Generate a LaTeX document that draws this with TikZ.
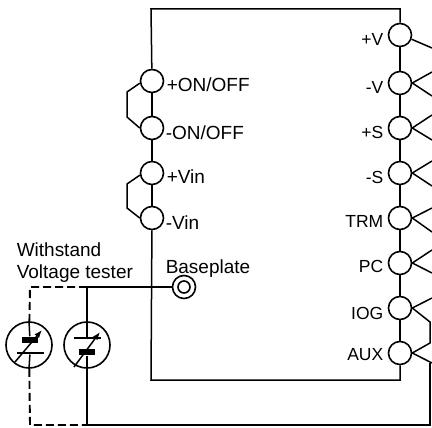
\documentclass[tikz,border=0pt]{standalone}
\usepackage{fontspec}
\usetikzlibrary{arrows.meta}
\setmainfont{Liberation Sans}
\newcommand\txt{\fontsize{19}{19}\selectfont}
\newcommand\txtb{\fontsize{17.5}{18}\selectfont}
\newcommand\pairwires[3]{
        \draw (#1.east) -- (432,#2);
        \draw (#1.east) -- (432,#3);
}
\tikzset{
    wire/.style={line width=1.5pt},
    tester/.style={line width=1.9pt,dash pattern=on 8pt off 4pt},
    pin/.style={circle,draw,fill=white,line width=1.6pt,inner sep=0pt,minimum size=23pt},
    varistor/.style={circle,draw,line width=1.6pt,inner sep=0pt,minimum size=46pt},
    thickplate/.style={fill=black,inner sep=0pt,minimum width=16pt,minimum height=6pt},
    thinplate/.style={fill=black,inner sep=0pt,minimum width=27pt,minimum height=1.5pt},
    tune/.style={-{Latex[length=8pt,width=6pt]}},
    leftlabel/.style={anchor=west,inner sep=0pt,font=\txt},
    rightlabel/.style={anchor=east,inner sep=0pt,font=\txtb},
}
\begin{document}
\begin{tikzpicture}[x=1pt,y=-1pt,wire]
    \useasboundingbox (0,0) rectangle (432,428);

    %pins on the left side:
    \node[pin] (onplus) at (152,81) {};
    \node[pin] (onminus) at (152,128) {};
    \node[pin] (vinplus) at (152,173) {};
    \node[pin] (vinminus) at (152,218) {};

    %pins on the right side:
    \node[pin] (vplus) at (400,35) {};
    \node[pin] (vminus) at (400,83) {};
    \node[pin] (splus) at (400,128) {};
    \node[pin] (sminus) at (400,173) {};
    \node[pin] (trm) at (400,218) {};
    \node[pin] (pc) at (400,263) {};
    \node[pin] (iog) at (400,308) {};
    \node[pin] (aux) at (400,353) {};

    %labels:
    \node[leftlabel] (lonplus) at (166,85) {+ON/OFF};
    \node[leftlabel] (lonminus) at (165,133) {-ON/OFF};
    \node[leftlabel] (lvinplus) at (166,177) {+Vin};
    \node[leftlabel] (lvinminus) at (165,223) {-Vin};
    \node[rightlabel] (lvplus) at (384,39) {+V};
    \node[rightlabel] (lvminus) at (384,87) {-V};
    \node[rightlabel] (lsplus) at (384,132) {+S};
    \node[rightlabel] (lsminus) at (384,177) {-S};
    \node[rightlabel] (ltrm) at (384,221) {TRM};
    \node[rightlabel] (lpc) at (384,266) {PC};
    \node[rightlabel] (liog) at (384,313) {IOG};
    \node[rightlabel] (laux) at (384,355) {AUX};
    \node[leftlabel] (lwith) at (16,250) {Withstand};
    \node[leftlabel] (lvolt) at (16,274) {Voltage tester};
    \node[leftlabel] (lbase) at (165,269) {Baseplate};

    %baseplate terminal:
    \node[circle,draw,line width=1.6pt,inner sep=0pt,minimum size=23pt] (base) at (184,287) {};
    \node[circle,draw,line width=1.6pt,inner sep=0pt,minimum size=12pt] (baseinner) at (184,287) {};

    %outline of the unit:
    \coordinate (tl) at (151,9);
    \coordinate (tr) at (400,9);
    \coordinate (bl) at (151,380);
    \coordinate (br) at (400,380);
    \draw (vplus) -- (tr) -- (tl) -- (onplus);
    \draw (onplus) -- (onminus);
    \draw (onminus) -- (vinplus);
    \draw (vinplus) -- (vinminus);
    \draw (vinminus) -- (bl) -- (br) -- (aux);
    \draw (vplus) -- (vminus);
    \draw (vminus) -- (splus);
    \draw (splus) -- (sminus);
    \draw (sminus) -- (trm);
    \draw (trm) -- (pc);
    \draw (pc) -- (iog);
    \draw (iog) -- (aux);

    %jumpers on the left side:
    \draw (onplus.190) -- (127,92) -- (127,117) -- (onminus.180);
    \draw (vinplus.190) -- (127,184) -- (127,208) -- (vinminus.180);

    %wires on the right side:
    \draw (vplus.-20) -- (432,48);
    \pairwires{vminus}{72}{96}
    \pairwires{splus}{115}{140}
    \pairwires{sminus}{161}{186}
    \pairwires{trm}{208}{232}
    \pairwires{pc}{250}{273}
    \draw (iog.east) -- (432,298);
    \draw (iog.east) -- (430,322) -- (430,343) -- (aux.east);
    \draw (aux.east) -- (432,363);

    %varistors:
    \node[varistor] (vara) at (29,345) {};
    \node[varistor] (varb) at (87,345) {};
    \node[thickplate] (thicka) at (30,340) {};
    \node[thinplate] (thina) at (30,353) {};
    \node[thinplate] (thinb) at (87,338) {};
    \node[thickplate] (thickb) at (87,352) {};
    \draw[tune] (15,362) -- (42,330);
    \draw[tune] (74,367) -- (100,332);
    \draw (vara.north) -- (thicka);
    \draw (thina) -- (vara.south);
    \draw (varb.north) -- (thinb);
    \draw (thickb) -- (varb.south);

    %connections to the tester:
    \coordinate (topa) at (30,287);
    \coordinate (topb) at (87,287);
    \coordinate (bota) at (30,425);
    \coordinate (botb) at (87,425);
    \coordinate (botr) at (430,425);
    \coordinate (auxdrop) at (430,363);
    \draw (topb) -- (base);
    \draw (varb) -- (topb);
    \draw (varb) -- (botb);
    \draw (botb) -- (botr) -- (auxdrop);
    \draw[tester] (topb) -- (topa) -- (vara);
    \draw[tester] (vara) -- (bota) -- (botb);
\end{tikzpicture}
\end{document}
